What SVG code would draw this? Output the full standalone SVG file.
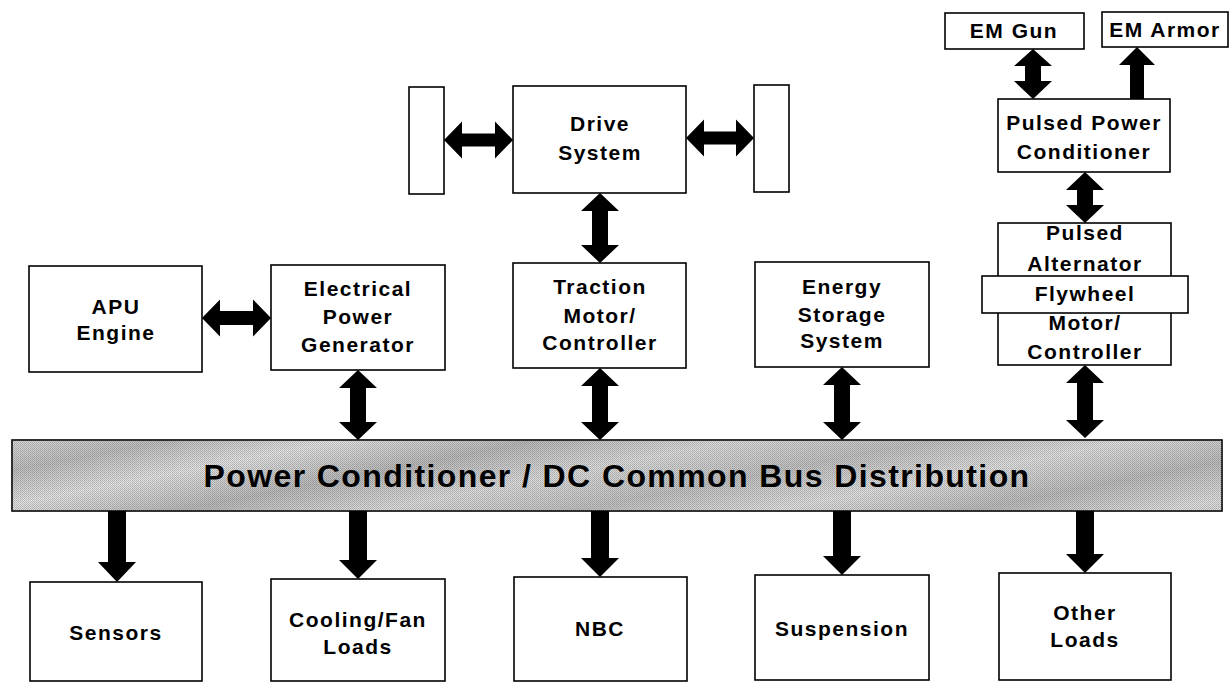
<svg xmlns="http://www.w3.org/2000/svg" width="1232" height="683" viewBox="0 0 1232 683">
<style>
.box{fill:#fff;stroke:#000;stroke-width:1.6}
.t{font-family:"Liberation Sans",Arial,Helvetica,sans-serif;font-weight:bold;font-size:21px;letter-spacing:1.5px;text-anchor:middle;fill:#000}
.bus{font-size:32px;letter-spacing:1.4px}
.arr{fill:#000;stroke:none}
</style>
<defs>
<pattern id="dots" width="2" height="2" patternUnits="userSpaceOnUse">
<rect width="1" height="1" fill="#555"/>
<rect x="1" y="1" width="1" height="1" fill="#777"/>
</pattern>
<linearGradient id="bands" x1="0" y1="0" x2="1" y2="0.3" spreadMethod="reflect">
<stop offset="0" stop-color="#d8d8d8"/>
<stop offset="0.12" stop-color="#bdbdbd"/>
<stop offset="0.25" stop-color="#e4e4e4"/>
<stop offset="0.4" stop-color="#b8b8b8"/>
<stop offset="0.55" stop-color="#dcdcdc"/>
<stop offset="0.7" stop-color="#c0c0c0"/>
<stop offset="0.85" stop-color="#e0e0e0"/>
<stop offset="1" stop-color="#bababa"/>
</linearGradient>
</defs>

<g id="bus">
<rect x="12" y="440" width="1210" height="71" fill="url(#bands)" stroke="#000" stroke-width="1.6"/>
<rect x="12" y="440" width="1210" height="71" fill="url(#dots)" opacity="0.35"/>
<text class="t bus" x="617" y="487">Power Conditioner / DC Common Bus Distribution</text>
</g>

<g id="wheel-left"><rect class="box" x="409" y="87" width="35" height="107"/></g>
<g id="wheel-right"><rect class="box" x="754" y="85" width="35" height="107"/></g>

<g id="drive-system">
<rect class="box" x="513" y="86" width="173" height="107"/>
<text class="t" x="600" y="131">Drive</text>
<text class="t" x="600" y="160">System</text>
</g>

<g id="apu-engine">
<rect class="box" x="29" y="266" width="173" height="106"/>
<text class="t" x="116" y="314">APU</text>
<text class="t" x="116" y="340">Engine</text>
</g>

<g id="electrical-power-generator">
<rect class="box" x="271" y="265" width="174" height="105"/>
<text class="t" x="358" y="296">Electrical</text>
<text class="t" x="358" y="324">Power</text>
<text class="t" x="358" y="352">Generator</text>
</g>

<g id="traction-motor">
<rect class="box" x="513" y="263" width="173" height="105"/>
<text class="t" x="600" y="294">Traction</text>
<text class="t" x="600" y="323">Motor/</text>
<text class="t" x="600" y="350">Controller</text>
</g>

<g id="energy-storage">
<rect class="box" x="755" y="262" width="174" height="105"/>
<text class="t" x="842" y="294">Energy</text>
<text class="t" x="842" y="322">Storage</text>
<text class="t" x="842" y="348">System</text>
</g>

<g id="em-gun">
<rect class="box" x="945" y="13" width="139" height="36"/>
<text class="t" x="1014" y="38">EM Gun</text>
</g>

<g id="em-armor">
<rect class="box" x="1102" y="12" width="126" height="35"/>
<text class="t" x="1165" y="37">EM Armor</text>
</g>

<g id="pulsed-power-conditioner">
<rect class="box" x="998" y="99" width="172" height="73"/>
<text class="t" x="1084" y="130">Pulsed Power</text>
<text class="t" x="1084" y="159">Conditioner</text>
</g>

<g id="pulsed-alternator">
<rect class="box" x="998" y="223" width="173" height="142"/>
<text class="t" x="1085" y="240">Pulsed</text>
<text class="t" x="1085" y="271">Alternator</text>
<text class="t" x="1085" y="330">Motor/</text>
<text class="t" x="1085" y="359">Controller</text>
</g>

<g id="flywheel">
<rect class="box" x="982" y="276" width="206" height="37"/>
<text class="t" x="1085" y="301">Flywheel</text>
</g>

<g id="sensors">
<rect class="box" x="30" y="582" width="172" height="99"/>
<text class="t" x="116" y="640">Sensors</text>
</g>

<g id="cooling-fan">
<rect class="box" x="271" y="579" width="174" height="102"/>
<text class="t" x="358" y="627">Cooling/Fan</text>
<text class="t" x="358" y="654">Loads</text>
</g>

<g id="nbc">
<rect class="box" x="514" y="577" width="173" height="104"/>
<text class="t" x="600" y="636">NBC</text>
</g>

<g id="suspension">
<rect class="box" x="755" y="575" width="174" height="105"/>
<text class="t" x="842" y="636">Suspension</text>
</g>

<g id="other-loads">
<rect class="box" x="999" y="573" width="172" height="107"/>
<text class="t" x="1085" y="620">Other</text>
<text class="t" x="1085" y="647">Loads</text>
</g>

<g id="connectors" class="arr">
<!-- horizontal double arrows -->
<polygon points="444,140 462,121.5 462,133.5 495,133.5 495,121.5 513,140 495,158.5 495,146.5 462,146.5 462,158.5"/>
<polygon points="686,138 704,119.5 704,131.5 736,131.5 736,119.5 754,138 736,156.5 736,144.5 704,144.5 704,156.5"/>
<polygon points="202,318 220,299.5 220,311 253,311 253,299.5 271,318 253,336.5 253,325 220,325 220,336.5"/>
<!-- vertical double arrows -->
<polygon points="600,193 619,211 608,211 608,245 619,245 600,263 581,245 592,245 592,211 581,211"/>
<polygon points="358,370 377,388 366,388 366,422 377,422 358,440 339,422 350,422 350,388 339,388"/>
<polygon points="600,368 619,386 608,386 608,422 619,422 600,440 581,422 592,422 592,386 581,386"/>
<polygon points="842,367 861,385 850,385 850,422 861,422 842,440 823,422 834,422 834,385 823,385"/>
<polygon points="1085,365 1104,383 1093,383 1093,420 1104,420 1085,438 1066,420 1077,420 1077,383 1066,383"/>
<polygon points="1085,172 1104,190 1093,190 1093,205 1104,205 1085,223 1066,205 1077,205 1077,190 1066,190"/>
<polygon points="1033,49 1052,66 1041,66 1041,81 1052,81 1033,99 1014,81 1025,81 1025,66 1014,66"/>
<!-- single up arrow to EM Armor -->
<polygon points="1137,47 1155,65 1144,65 1144,99 1130,99 1130,65 1119,65"/>
<!-- down arrows to loads -->
<polygon points="108,511 126,511 126,562 136,562 117,582 98,562 108,562"/>
<polygon points="349,511 367,511 367,560 377,560 358,579 339,560 349,560"/>
<polygon points="591,511 609,511 609,558 619,558 600,577 581,558 591,558"/>
<polygon points="833,511 851,511 851,556 861,556 842,575 823,556 833,556"/>
<polygon points="1076,511 1094,511 1094,554 1104,554 1085,573 1066,554 1076,554"/>
</g>
</svg>
